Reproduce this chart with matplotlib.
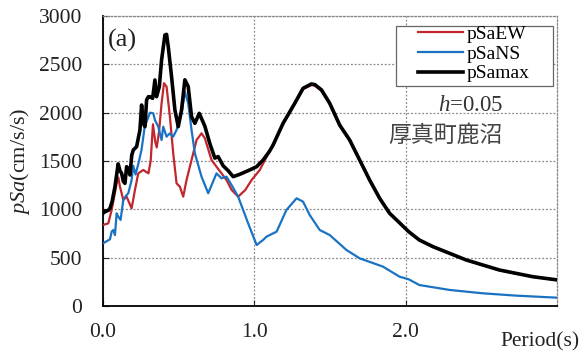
import numpy as np
import matplotlib
matplotlib.use('Agg')
import matplotlib.pyplot as plt
from matplotlib.patches import Rectangle

plt.rcParams['font.family'] = ['Liberation Serif', 'DejaVu Serif']
plt.rcParams['mathtext.fontset'] = 'custom'
plt.rcParams['mathtext.rm'] = 'Liberation Serif'
plt.rcParams['mathtext.it'] = 'Liberation Serif:italic'

# pSamax (black)
t_max = [0.0, 0.013, 0.035, 0.046, 0.06, 0.079, 0.10, 0.112, 0.123, 0.134, 0.145,
         0.156, 0.167, 0.178, 0.19, 0.2, 0.222, 0.244, 0.255, 0.266, 0.277, 0.288,
         0.30, 0.31, 0.328, 0.343, 0.354, 0.372, 0.387, 0.409, 0.42, 0.431, 0.453,
         0.475, 0.497, 0.519, 0.541, 0.563, 0.585, 0.607, 0.636, 0.673, 0.706, 0.739,
         0.761, 0.794, 0.827, 0.86, 0.90, 0.959, 1.015, 1.058, 1.1, 1.124, 1.19,
         1.267, 1.322, 1.377, 1.40, 1.444, 1.498, 1.564, 1.63, 1.696, 1.762, 1.828,
         1.894, 1.96, 2.02, 2.09, 2.18, 2.4, 2.62, 2.84, 3.0]
sa_max = [960, 975, 990, 1010, 1080, 1234, 1470, 1400, 1372, 1290, 1269,
          1441, 1420, 1355, 1560, 1614, 1648, 1821, 2079, 1890, 1855, 2131,
          2165, 2165, 2148, 2338, 2165, 2269, 2545, 2803, 2810, 2683, 2372,
          2028, 1855, 2028, 2340, 2269, 1958, 1890, 1993, 1860, 1680, 1530,
          1545, 1450, 1400, 1338, 1360, 1400, 1441, 1510, 1600, 1666, 1890,
          2097, 2252, 2297, 2290, 2235, 2097, 1872, 1717, 1510, 1303, 1114,
          959, 860, 769, 683, 614, 476, 372, 303, 270]

# pSaEW (red)
t_ew = [0.0, 0.035, 0.057, 0.09, 0.101, 0.112, 0.134, 0.156, 0.189, 0.211, 0.233,
        0.266, 0.3, 0.315, 0.33, 0.345, 0.355, 0.37, 0.387, 0.403, 0.42, 0.442,
        0.464, 0.486, 0.508, 0.53, 0.552, 0.585, 0.618, 0.651, 0.673, 0.717, 0.75,
        0.783, 0.816, 0.85, 0.893, 0.94, 0.982, 1.036, 1.07, 1.1, 1.124, 1.19,
        1.267, 1.322, 1.377, 1.40, 1.444, 1.498, 1.564, 1.63, 1.696, 1.762, 1.828,
        1.894, 1.96, 2.02, 2.09, 2.18, 2.4, 2.62, 2.84, 3.0]
sa_ew = [838, 855, 993, 1269, 1330, 1234, 1097, 1131, 1010, 1200, 1372,
         1407, 1372, 1500, 1880, 1700, 1640, 1800, 2097, 2305, 2269, 1958,
         1579, 1269, 1234, 1131, 1303, 1510, 1717, 1786, 1735, 1510, 1441,
         1372, 1303, 1200, 1131, 1200, 1303, 1407, 1510, 1600, 1660, 1885,
         2090, 2245, 2285, 2280, 2225, 2090, 1865, 1710, 1505, 1300, 1110,
         955, 857, 766, 680, 611, 474, 370, 301, 268]

# pSaNS (blue)
t_ns = [0.0, 0.046, 0.057, 0.068, 0.079, 0.09, 0.101, 0.116, 0.134, 0.156, 0.167,
        0.189, 0.2, 0.215, 0.235, 0.255, 0.275, 0.31, 0.332, 0.343, 0.365, 0.387,
        0.398, 0.42, 0.442, 0.464, 0.486, 0.519, 0.541, 0.563, 0.585, 0.607, 0.651,
        0.695, 0.75, 0.783, 0.816, 0.85, 0.893, 0.959, 1.015, 1.058, 1.08, 1.147,
        1.212, 1.279, 1.322, 1.366, 1.432, 1.498, 1.609, 1.696, 1.85, 1.96, 2.02,
        2.09, 2.29, 2.51, 2.73, 3.0]
sa_ns = [648, 690, 769, 786, 734, 959, 924, 890, 1097, 1148, 1166,
         1303, 1450, 1360, 1480, 1620, 1850, 2000, 1993, 1924, 1855, 1717,
         1855, 1752, 1786, 1752, 1821, 1993, 2217, 2097, 1821, 1579, 1338,
         1166, 1372, 1321, 1338, 1250, 1131, 855, 631, 683, 717, 769,
         993, 1114, 1079, 941, 786, 734, 579, 493, 407, 303, 276,
         217, 166, 131, 107, 86]

x_ticks = [0.0, 1.0, 2.0]
x_tick_labels = ['0.0', '1.0', '2.0']
y_ticks = [0, 500, 1000, 1500, 2000, 2500, 3000]

fig = plt.figure(figsize=(5.83, 3.58), dpi=100)
ax = fig.add_axes([0.1767, 0.1453, 0.7787, 0.81])

ax.plot(t_ew, sa_ew, color='#c1272d', lw=1.6, label='pSaEW', zorder=3)
ax.plot(t_ns, sa_ns, color='#1a73c2', lw=1.6, label='pSaNS', zorder=3)
ax.plot(t_max, sa_max, color='black', lw=2.6, label='pSamax', zorder=4)

ax.set_xlim(0, 3.0)
ax.set_ylim(0, 3000)
ax.set_xticks(x_ticks)
ax.set_xticklabels(x_tick_labels)
ax.set_yticks(y_ticks)
ax.tick_params(direction='in', length=4, labelsize=15.5, colors='#222222')
ax.tick_params(axis='y', pad=15)
ax.tick_params(axis='x', pad=12)
ax.grid(True, color='#888888', ls=(0, (1.5, 1.5)), lw=0.9)

for s in ['top', 'right']:
    ax.spines[s].set_color('#888888')
    ax.spines[s].set_linestyle((0, (1.5, 1.5)))
    ax.spines[s].set_linewidth(0.9)
for s in ['left', 'bottom']:
    ax.spines[s].set_linewidth(1.3)

ax.set_ylabel(r'$\mathit{pSa}$(cm/s/s)', fontsize=16, color='#222222', labelpad=5)
ax.text(1.0507, -0.125, 'Period(s)', transform=ax.transAxes, ha='right', va='center',
        fontsize=15.5, color='#222222')

ax.text(0.01, 0.917, '(a)', transform=ax.transAxes, fontsize=19, color='#222222',
        va='center', ha='left', family='Liberation Serif')
ax.text(0.81, 0.69, r'$h$=0.05', transform=ax.transAxes, fontsize=16.5, color='#333333',
        ha='center', va='center')
ax.text(0.755, 0.588, '厚真町鹿沼', transform=ax.transAxes, fontsize=16.5, color='#444444',
        ha='center', va='center', family=['Noto Sans CJK JP', 'DejaVu Sans'])

# legend frame drawn separately (wide side padding like the original)
ax.add_patch(Rectangle((0.6454, 0.7586), 0.9912 - 0.6454, 0.9655 - 0.7586,
                       transform=ax.transAxes, facecolor='white', edgecolor='#666666',
                       lw=0.9, zorder=5))
leg = ax.legend(loc='upper left', bbox_to_anchor=(0.694, 0.969), borderaxespad=0,
                fontsize=14, handlelength=2.3, labelspacing=0.12, handletextpad=0.2,
                borderpad=0, frameon=False)
leg.set_zorder(6)

fig.savefig('out.png', dpi=100)
